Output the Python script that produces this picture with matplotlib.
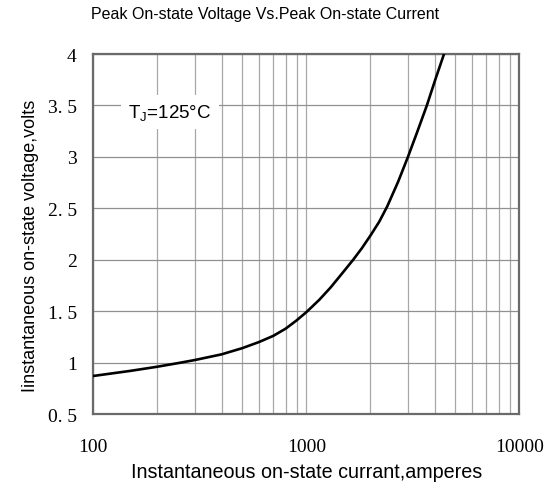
import matplotlib
matplotlib.use("Agg")
from matplotlib import pyplot as plt
from matplotlib.ticker import LogLocator, FixedLocator, FixedFormatter, NullFormatter

# on-state current (A) and voltage (V) along the Tj=125C curve
current = [100, 150, 200, 250, 300, 400, 500, 600, 700, 800, 900, 1000,
           1150, 1300, 1470, 1660, 1820, 2000, 2200, 2400, 2700, 3000,
           3320, 3680, 4030, 4430]
voltage = [0.87, 0.92, 0.96, 0.995, 1.025, 1.08, 1.14, 1.20, 1.26, 1.33, 1.41, 1.49,
           1.61, 1.73, 1.865, 2.0, 2.11, 2.235, 2.37, 2.52, 2.76, 3.0,
           3.245, 3.5, 3.75, 4.0]

y_ticks = [0.5, 1, 1.5, 2, 2.5, 3, 3.5, 4]
y_labels = ['0. 5', '1', '1. 5', '2', '2. 5', '3', '3. 5', '4']
x_ticks = [100, 1000, 10000]
x_labels = ['100', '1000', '10000']

fig = plt.figure(figsize=(5.45, 4.89), dpi=100)
ax = fig.add_axes([0.1712, 0.1513, 0.7817, 0.7362])

ax.plot(current, voltage, color='black', lw=1.9, zorder=3)

ax.set_xscale('log')
ax.set_xlim(100, 10000)
ax.set_ylim(0.5, 4)

ax.xaxis.set_major_locator(FixedLocator(x_ticks))
ax.xaxis.set_major_formatter(FixedFormatter(x_labels))
ax.xaxis.set_minor_locator(LogLocator(base=10, subs=range(2, 10)))
ax.xaxis.set_minor_formatter(NullFormatter())
ax.yaxis.set_major_locator(FixedLocator(y_ticks))
ax.yaxis.set_major_formatter(FixedFormatter(y_labels))

ax.grid(True, which='both', axis='x', color='#a8a8a8', lw=0.9)
ax.grid(True, which='major', axis='y', color='#909090', lw=0.9)
ax.set_axisbelow(True)

ax.tick_params(which='both', length=0)
ax.tick_params(axis='y', pad=12, labelsize=14)
ax.tick_params(axis='x', pad=17, labelsize=14)
for lab in ax.get_xticklabels() + ax.get_yticklabels():
    lab.set_family('Liberation Serif')

for sp in ax.spines.values():
    sp.set_color('#6a6a6a')
    sp.set_linewidth(1.6)

ax.set_xlabel('Instantaneous on-state currant,amperes', family='Liberation Sans',
              fontsize=14.2, labelpad=5)
ax.set_ylabel('Iinstantaneous on-state voltage,volts', family='Liberation Sans',
              fontsize=13, labelpad=9)
ax.yaxis.set_label_coords(-0.128, 0.47)

ax.text(146, 3.44, r'T$\mathregular{_J}$=125°C', family='Liberation Sans', fontsize=13.5,
        va='center', ha='left', zorder=4,
        bbox=dict(facecolor='white', edgecolor='none', pad=5))

fig.text(265 / 545, 1 - 15 / 489, 'Peak On-state Voltage Vs.Peak On-state Current',
         family='Liberation Sans', fontsize=11.5, ha='center', va='center')

fig.savefig('out.png', dpi=100)
